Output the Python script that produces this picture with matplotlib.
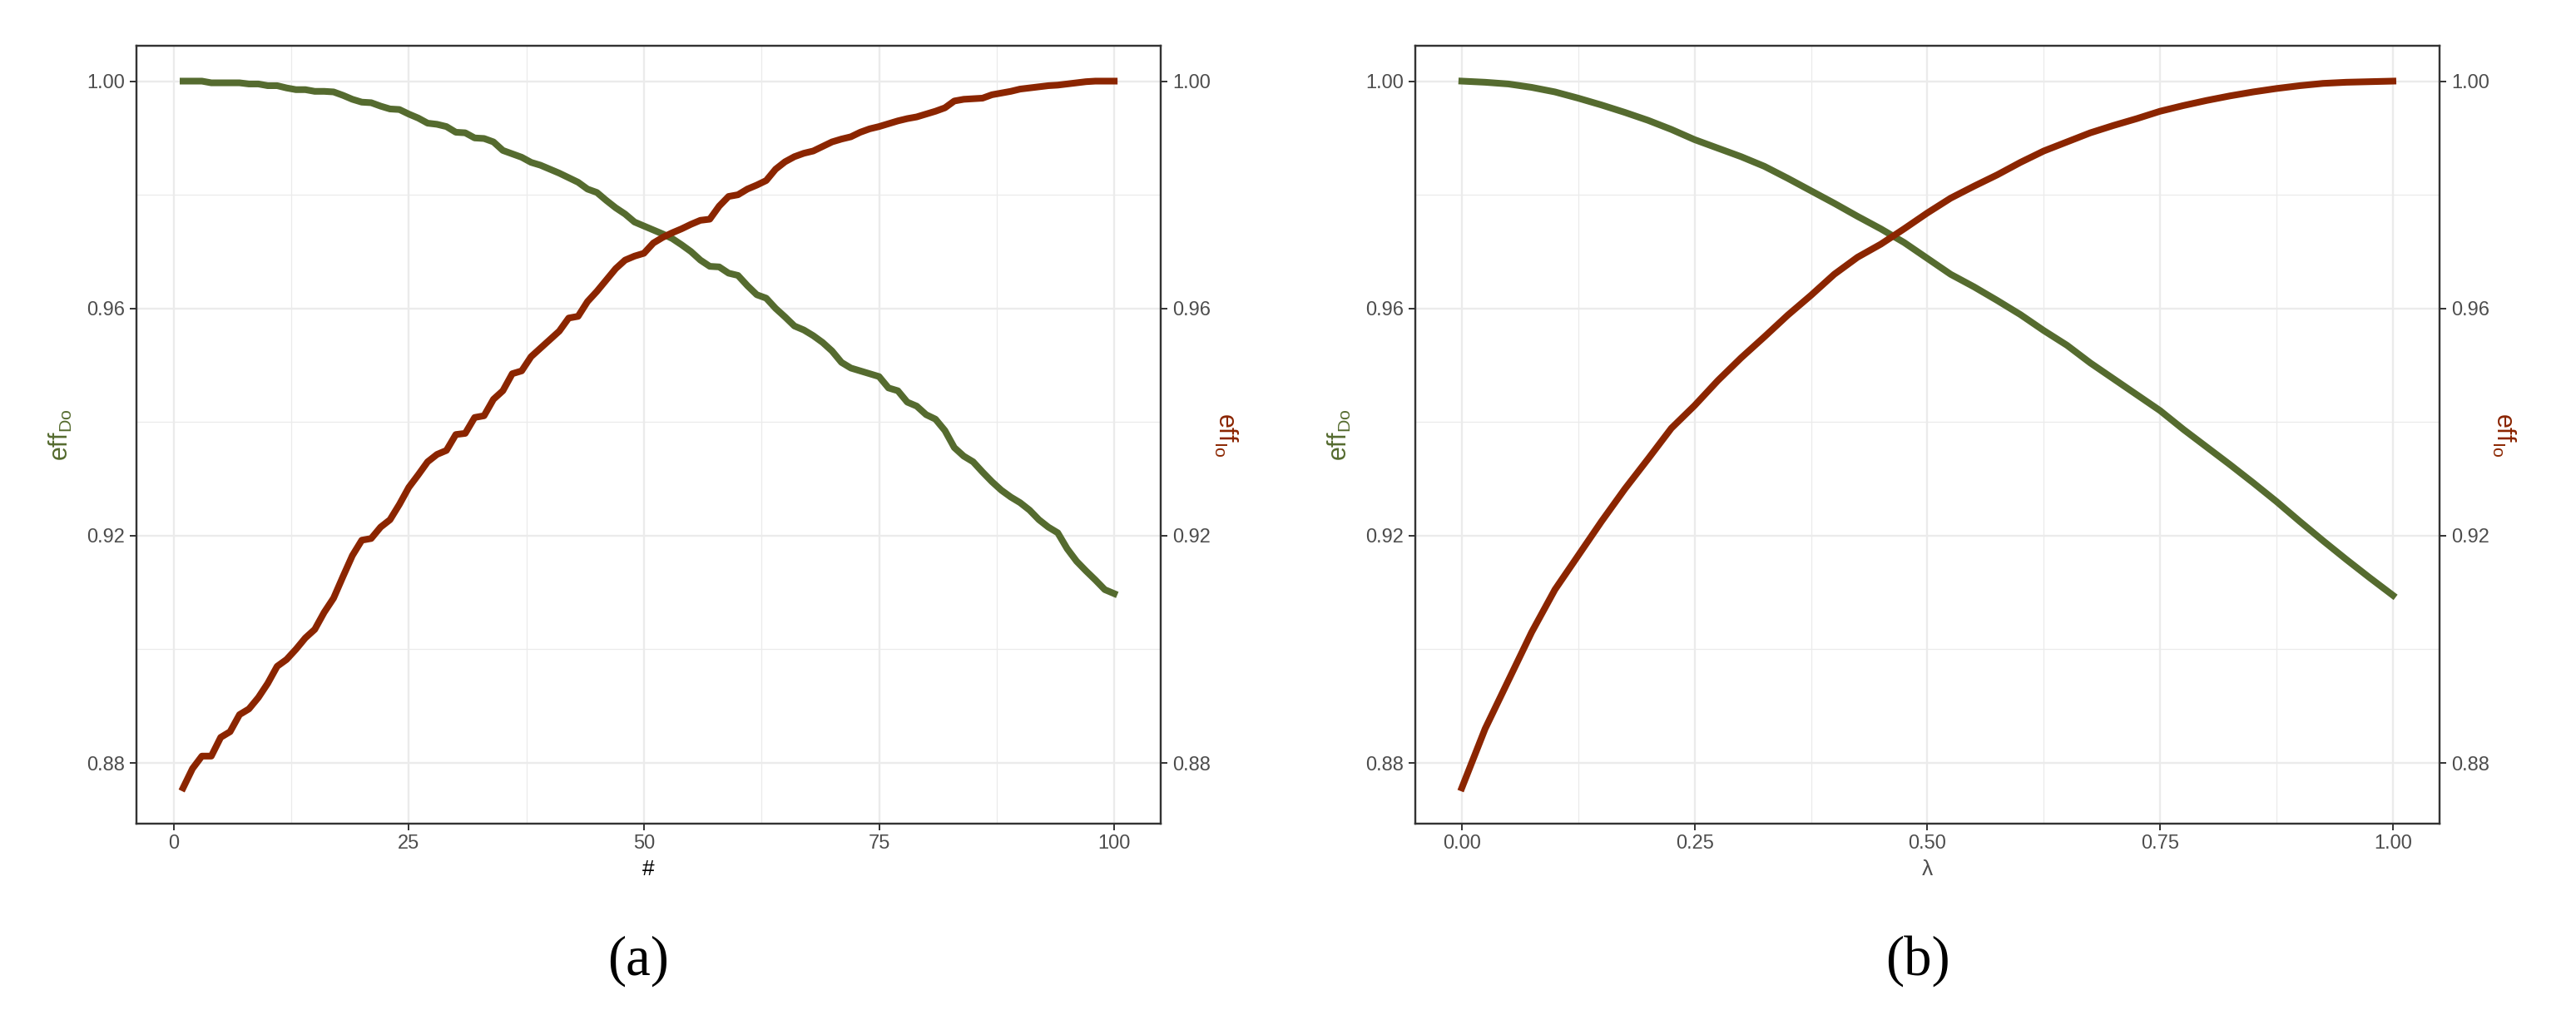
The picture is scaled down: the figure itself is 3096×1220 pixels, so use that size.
import matplotlib.pyplot as plt

plt.rcParams['font.family'] = ['Liberation Sans', 'DejaVu Sans']
plt.rcParams['mathtext.fontset'] = 'custom'
plt.rcParams['mathtext.rm'] = 'Liberation Sans'
plt.rcParams['mathtext.it'] = 'Liberation Sans:italic'

# --- data, panel (a): index 1..100
n_idx = list(range(1, 101))
eff_do_a = [
    1.0000, 1.0000, 1.0000, 0.9997, 0.9997, 0.9997, 0.9997, 0.9995, 0.9995, 0.9992,
    0.9992, 0.9988, 0.9985, 0.9985, 0.9982, 0.9982, 0.9981, 0.9975, 0.9968, 0.9963,
    0.9962, 0.9956, 0.9951, 0.9950, 0.9942, 0.9935, 0.9926, 0.9924, 0.9920, 0.9910,
    0.9909, 0.9900, 0.9899, 0.9893, 0.9878, 0.9872, 0.9866, 0.9857, 0.9852, 0.9845,
    0.9838, 0.9830, 0.9822, 0.9810, 0.9804, 0.9790, 0.9777, 0.9766, 0.9752, 0.9745,
    0.9738, 0.9731, 0.9723, 0.9712, 0.9700, 0.9685, 0.9674, 0.9673, 0.9662, 0.9658,
    0.9640, 0.9624, 0.9618, 0.9600, 0.9585, 0.9569, 0.9562, 0.9552, 0.9540, 0.9525,
    0.9505, 0.9495, 0.9490, 0.9485, 0.9480, 0.9460, 0.9455, 0.9435, 0.9428, 0.9413,
    0.9405, 0.9385, 0.9355, 0.9340, 0.9330, 0.9312, 0.9295, 0.9280, 0.9268, 0.9258,
    0.9245, 0.9228, 0.9215, 0.9205, 0.9177, 0.9155, 0.9138, 0.9122, 0.9105, 0.9098,
]
eff_io_a = [
    0.8756, 0.8790, 0.8812, 0.8812, 0.8845, 0.8855, 0.8885, 0.8895, 0.8915, 0.8940,
    0.8970, 0.8982, 0.9000, 0.9020, 0.9035, 0.9065, 0.9090, 0.9128, 0.9165, 0.9192,
    0.9195, 0.9215, 0.9228, 0.9255, 0.9285, 0.9307, 0.9330, 0.9343, 0.9350, 0.9378,
    0.9380, 0.9408, 0.9411, 0.9440, 0.9455, 0.9485, 0.9490, 0.9515, 0.9530, 0.9545,
    0.9560, 0.9583, 0.9586, 0.9612, 0.9630, 0.9650, 0.9670, 0.9685, 0.9692, 0.9697,
    0.9715, 0.9725, 0.9733, 0.9740, 0.9748, 0.9755, 0.9757, 0.9780, 0.9797, 0.9800,
    0.9810, 0.9817, 0.9825, 0.9845, 0.9858, 0.9867, 0.9873, 0.9877, 0.9885, 0.9893,
    0.9898, 0.9902, 0.9910, 0.9916, 0.9920, 0.9925, 0.9930, 0.9934, 0.9937, 0.9942,
    0.9947, 0.9953, 0.9965, 0.9968, 0.9969, 0.9970, 0.9976, 0.9979, 0.9982, 0.9986,
    0.9988, 0.9990, 0.9992, 0.9993, 0.9995, 0.9997, 0.9999, 1.0000, 1.0000, 1.0000,
]

# --- data, panel (b): lambda 0..1
lam = [
    0.000, 0.025, 0.050, 0.075, 0.100, 0.125, 0.150, 0.175, 0.200, 0.225,
    0.250, 0.275, 0.300, 0.325, 0.350, 0.375, 0.400, 0.425, 0.450, 0.475,
    0.500, 0.525, 0.550, 0.575, 0.600, 0.625, 0.650, 0.675, 0.700, 0.725,
    0.750, 0.775, 0.800, 0.825, 0.850, 0.875, 0.900, 0.925, 0.950, 0.975, 1.000,
]
eff_do_b = [
    1.0000, 0.9998, 0.9995, 0.9989, 0.9981, 0.9970, 0.9958, 0.9945, 0.9931, 0.9915,
    0.9897, 0.9882, 0.9867, 0.9850, 0.9829, 0.9807, 0.9785, 0.9762, 0.9740, 0.9716,
    0.9688, 0.9660, 0.9638, 0.9614, 0.9589, 0.9561, 0.9535, 0.9504, 0.9476, 0.9448,
    0.9420, 0.9387, 0.9356, 0.9325, 0.9293, 0.9260, 0.9225, 0.9191, 0.9158, 0.9126, 0.9095,
]
eff_io_b = [
    0.8756, 0.8860, 0.8945, 0.9030, 0.9105, 0.9165, 0.9225, 0.9282, 0.9335, 0.9389,
    0.9429, 0.9473, 0.9513, 0.9550, 0.9588, 0.9623, 0.9660, 0.9690, 0.9713, 0.9740,
    0.9768, 0.9794, 0.9815, 0.9835, 0.9857, 0.9877, 0.9893, 0.9909, 0.9922, 0.9934,
    0.9947, 0.9957, 0.9966, 0.9974, 0.9981, 0.9987, 0.9992, 0.9996, 0.9998, 0.9999, 1.0000,
]

y_ticks = [0.88, 0.92, 0.96, 1.00]
y_ticklabels = ['0.88', '0.92', '0.96', '1.00']
y_minor = [0.90, 0.94, 0.98]
xa_ticks = [0, 25, 50, 75, 100]
xa_ticklabels = ['0', '25', '50', '75', '100']
xa_minor = [12.5, 37.5, 62.5, 87.5]
xb_ticks = [0, 0.25, 0.5, 0.75, 1.0]
xb_ticklabels = ['0.00', '0.25', '0.50', '0.75', '1.00']
xb_minor = [0.125, 0.375, 0.625, 0.875]

GREEN = '#556B2F'
RED = '#8B2500'
GRID = '#EBEBEB'
DARK = '#333333'
TXT = '#4D4D4D'

fig = plt.figure(figsize=(30.96, 12.2), dpi=100)


def expand(vals, frac=0.05):
    lo, hi = min(vals), max(vals)
    pad = (hi - lo) * frac
    return lo - pad, hi + pad


def panel(left, x, do, io, xt, xtl, xmin, xlab, tag, tag_x):
    ax = fig.add_axes([left, 0.1889, 0.3976, 0.7660])
    ax.set_axisbelow(True)
    ax.plot(x, do, color=GREEN, lw=5.8, solid_joinstyle='round', zorder=3)
    ax.plot(x, io, color=RED, lw=5.8, solid_joinstyle='round', zorder=4)
    ax.set_xlim(*expand(x))
    ax.set_ylim(*expand(do + io))
    ax.set_xticks(xt)
    ax.set_xticklabels(xtl)
    ax.set_xticks(xmin, minor=True)
    ax.set_yticks(y_ticks)
    ax.set_yticklabels(y_ticklabels)
    ax.set_yticks(y_minor, minor=True)
    ax.grid(which='major', color=GRID, lw=1.7)
    ax.grid(which='minor', color=GRID, lw=0.9)
    ax.tick_params(which='major', length=6, width=1.4, color=DARK,
                   labelsize=17, labelcolor=TXT, pad=4)
    ax.tick_params(which='minor', length=0)
    for s in ax.spines.values():
        s.set_color(DARK)
        s.set_linewidth(1.6)

    ax.set_xlabel(xlab, fontsize=19, color='black' if xlab == '#' else TXT)
    ax.xaxis.set_label_coords(0.5, -0.059)
    ax.xaxis.label.set_va('center')
    ax.set_ylabel(r'$\mathrm{eff}_{\mathrm{Do}}$', fontsize=22, color=GREEN)
    ax.yaxis.set_label_coords(-0.074, 0.5)
    ax.yaxis.label.set_va('center')

    ax2 = ax.twinx()
    ax2.set_ylim(ax.get_ylim())
    ax2.set_yticks(y_ticks)
    ax2.set_yticklabels(y_ticklabels)
    ax2.tick_params(length=6, width=1.4, color=DARK,
                    labelsize=17, labelcolor=TXT, pad=4)
    for s in ax2.spines.values():
        s.set_color(DARK)
        s.set_linewidth(1.6)
    ax2.set_ylabel(r'$\mathrm{eff}_{\mathrm{Io}}$', fontsize=22, color=RED, rotation=270)
    ax2.yaxis.set_label_coords(1.063, 0.5)
    ax2.yaxis.label.set_va('center')

    fig.text(tag_x, 0.0533, tag, fontsize=48, family=['Liberation Serif', 'DejaVu Serif'],
             ha='center', va='center')
    return ax


panel(0.0530, n_idx, eff_do_a, eff_io_a, xa_ticks, xa_ticklabels, xa_minor, '#', '(a)', 0.2477)
panel(0.5494, lam, eff_do_b, eff_io_b, xb_ticks, xb_ticklabels, xb_minor, 'λ', '(b)', 0.7445)

fig.savefig('out.png', dpi=100, facecolor='white')
